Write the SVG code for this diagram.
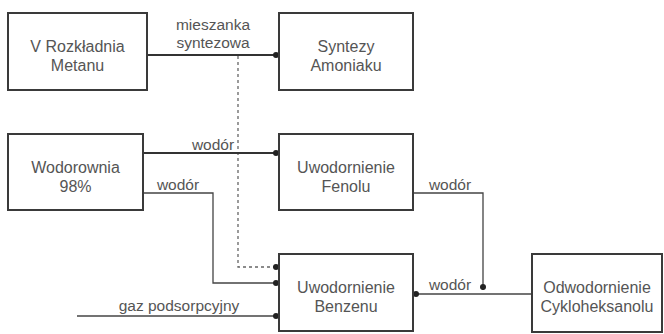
<svg xmlns="http://www.w3.org/2000/svg" width="664" height="334" viewBox="0 0 664 334">
<style>
.box{fill:#fff;stroke:#3a3a3a;stroke-width:2}
.t{font-family:"Liberation Sans",Arial,sans-serif;font-size:16px;fill:#555;text-anchor:middle}
.lbl{font-family:"Liberation Sans",Arial,sans-serif;font-size:15.5px;fill:#555;text-anchor:middle}
.c{fill:none;stroke:#444;stroke-width:1.3}
.cb{fill:none;stroke:#333;stroke-width:2}
.dot{fill:none;stroke:#666;stroke-width:1.3;stroke-dasharray:3,3}
</style>
<defs>
<marker id="d" markerUnits="userSpaceOnUse" markerWidth="7" markerHeight="7" viewBox="0 0 7 7" refX="6.5" refY="3.5" orient="auto">
<circle cx="3.5" cy="3.5" r="3" fill="#222"/>
</marker>
</defs>
<g id="connectors">
<path class="cb" d="M147 55H279" marker-end="url(#d)"/>
<path class="dot" d="M238 56V267H279" marker-end="url(#d)"/>
<path class="cb" d="M143 153H279" marker-end="url(#d)"/>
<path class="c" d="M143 193H213V283H279" marker-end="url(#d)"/>
<path class="c" d="M413 193H483V290" marker-end="url(#d)"/>
<path class="c" d="M532 294H413" marker-end="url(#d)"/>
<path class="c" d="M77 316H279" marker-end="url(#d)"/>
<text class="lbl" x="213" y="30">mieszanka</text>
<text class="lbl" x="213" y="48">syntezowa</text>
<text class="lbl" x="213" y="150">wodór</text>
<text class="lbl" x="178" y="190">wodór</text>
<text class="lbl" x="450" y="190">wodór</text>
<text class="lbl" x="450" y="290">wodór</text>
<text class="lbl" x="179" y="311">gaz podsorpcyjny</text>
</g>
<g id="metanu">
<rect class="box" x="8" y="13" width="139" height="77"/>
<text class="t" x="77.5" y="52">V Rozkładnia</text>
<text class="t" x="77.5" y="71">Metanu</text>
</g>
<g id="syntezy">
<rect class="box" x="279" y="13" width="134" height="77"/>
<text class="t" x="346" y="52">Syntezy</text>
<text class="t" x="346" y="71">Amoniaku</text>
</g>
<g id="wodorownia">
<rect class="box" x="8" y="134" width="135" height="76"/>
<text class="t" x="75.5" y="173">Wodorownia</text>
<text class="t" x="75.5" y="192">98%</text>
</g>
<g id="fenolu">
<rect class="box" x="279" y="134" width="134" height="76"/>
<text class="t" x="346" y="173">Uwodornienie</text>
<text class="t" x="346" y="192">Fenolu</text>
</g>
<g id="benzenu">
<rect class="box" x="279" y="254" width="134" height="77"/>
<text class="t" x="346" y="293">Uwodornienie</text>
<text class="t" x="346" y="312">Benzenu</text>
</g>
<g id="odwodornienie">
<rect class="box" x="532" y="254" width="130" height="78"/>
<text class="t" x="597" y="293">Odwodornienie</text>
<text class="t" x="597" y="312">Cykloheksanolu</text>
</g>
</svg>
